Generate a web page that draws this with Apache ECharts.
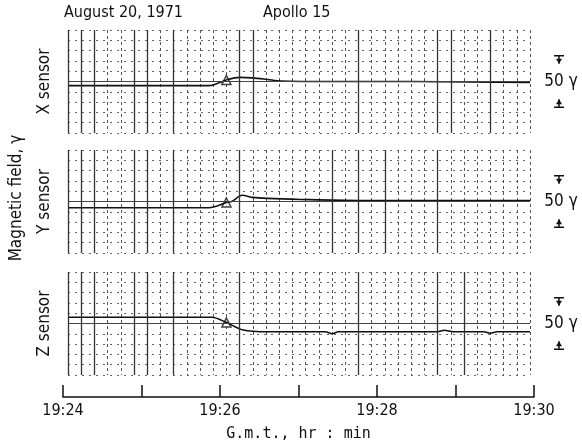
<!DOCTYPE html>
<html>
<head>
<meta charset="utf-8">
<script src="https://cdn.jsdelivr.net/npm/echarts@6/dist/echarts.min.js"></script>
<style>
  html, body { margin: 0; padding: 0; background: #fff; }
  #charts { width: 582px; height: 445px; }
</style>
</head>
<body>
<div id="charts"></div>
<script>
// seconds on the chart paper (panel), field relative to baseline in gamma
var xSensor = [[0, -4], [40, -4], [80, -4], [107, -4], [115, -1], [121, 2], [130, 4], [140, 3.5],
    [151, 2], [161, 0.5], [200, 0], [260, 0], [305, -0.5], [350, -1]];
var ySensor = [[0, -6], [50, -6], [90, -6], [107, -6], [118, -2], [121, -0.5], [124, 0], [132, 6],
    [140, 4], [151, 3], [176, 2], [220, 1], [280, 1], [350, 1]];
var zSensor = [[0, 6], [60, 6], [109, 6], [120, 1], [132, -6], [151, -8], [176, -8], [195, -8],
    [200, -10], [205, -8], [280, -8], [285, -6.5], [292, -8], [315, -8], [320, -9.5], [325, -8], [350, -8]];
var markers = [[[120, 1.5]], [[120, -1]], [[120, 1]]];
var sensorNames = ['X sensor', 'Y sensor', 'Z sensor'];
var heavyLines = [
    [0, 10, 20, 50, 60, 80, 130, 140, 220, 280, 290, 320],
    [0, 10, 20, 50, 60, 80, 130, 200, 220, 240, 280],
    [0, 10, 20, 50, 60, 80, 130, 220, 280, 300]
];
var timeTicks = ['19:24', '', '19:26', '', '19:28', '', '19:30'];
var sensors = [xSensor, ySensor, zSensor];

var FONT = "'DejaVu Sans Condensed', 'Liberation Sans Narrow', 'DejaVu Sans', sans-serif";
var MONO = "'DejaVu Sans Mono', 'Liberation Mono', monospace";
var panelTops = [30, 150, 272];

var myChart = echarts.init(document.getElementById('charts'));

var grids = [], xAxes = [], yAxes = [], seriesList = [];
panelTops.forEach(function (top, i) {
    grids.push({ left: 68, right: 52, top: top, height: 103 });
    xAxes.push({
        type: 'value', gridIndex: i, min: 0, max: 350, interval: 10,
        axisLine: { show: false }, axisTick: { show: false }, axisLabel: { show: false },
        splitLine: { show: true, lineStyle: { color: '#555', width: 1, type: [3, 3] } }
    });
    yAxes.push({
        type: 'value', gridIndex: i, min: -50, max: 50, interval: 10,
        name: sensorNames[i], nameLocation: 'middle', nameGap: 15, nameRotate: 90,
        nameTextStyle: { fontFamily: FONT, fontSize: 17, color: '#111' },
        axisLine: { show: false }, axisTick: { show: false }, axisLabel: { show: false },
        splitLine: { show: true, lineStyle: { color: '#666', width: 1, type: [2, 5] } }
    });
    seriesList.push({
        type: 'line', xAxisIndex: i, yAxisIndex: i, data: sensors[i],
        showSymbol: false, smooth: 0.3,
        lineStyle: { color: '#111', width: 1.6 },
        markLine: {
            silent: true, symbol: 'none', label: { show: false }, animation: false,
            data: [{ yAxis: 0, lineStyle: { color: '#444', width: 1, type: 'solid' } }].concat(
                heavyLines[i].map(function (v) {
                    return { xAxis: v, lineStyle: { color: '#333', width: 1.3, type: 'solid' } };
                }))
        }
    });
    seriesList.push({
        type: 'scatter', xAxisIndex: i, yAxisIndex: i, data: markers[i],
        symbol: 'triangle', symbolSize: 9,
        itemStyle: { color: '#fff', borderColor: '#111', borderWidth: 1.5 }
    });
});

// time axis
grids.push({ left: 63, right: 48, top: 385, height: 12 });
xAxes.push({
    type: 'value', gridIndex: 3, min: 0, max: 6, interval: 1,
    name: 'G.m.t., hr : min', nameLocation: 'middle', nameGap: 30,
    nameTextStyle: { fontFamily: MONO, fontSize: 15, color: '#111' },
    axisLine: { lineStyle: { color: '#111', width: 1.5 } },
    axisTick: { inside: true, length: 12, lineStyle: { color: '#111', width: 1.5 } },
    axisLabel: {
        margin: 6, fontFamily: FONT, fontSize: 16, color: '#111',
        formatter: function (v) { return timeTicks[v] || ''; }
    },
    splitLine: { show: false }
});
yAxes.push({ type: 'value', gridIndex: 3, show: false });

var option = {
    animation: false,
    backgroundColor: '#fff',
    grid: grids,
    xAxis: xAxes,
    yAxis: yAxes,
    series: seriesList
};
myChart.setOption(option);

// titles and 50 gamma scale bars
var graphics = [
    { type: 'text', left: 64, top: 5, style: { text: 'August 20, 1971', fontFamily: FONT, fontSize: 16, fill: '#111' } },
    { type: 'text', left: 263, top: 5, style: { text: 'Apollo 15', fontFamily: FONT, fontSize: 16, fill: '#111' } },
    { type: 'text', x: 17, y: 198, rotation: Math.PI / 2,
      style: { text: 'Magnetic field, γ', fontFamily: FONT, fontSize: 17, fill: '#111', align: 'center', verticalAlign: 'middle' } }
];
[0, 1, 2].forEach(function (i) {
    var yTop = myChart.convertToPixel({ yAxisIndex: i }, 25);
    var yMid = myChart.convertToPixel({ yAxisIndex: i }, 0);
    var yBot = myChart.convertToPixel({ yAxisIndex: i }, -25);
    var cx = 559;
    var st = { stroke: '#111', lineWidth: 1.5 };
    graphics.push(
        { type: 'line', shape: { x1: cx - 5, y1: yTop, x2: cx + 5, y2: yTop }, style: st },
        { type: 'line', shape: { x1: cx, y1: yTop, x2: cx, y2: yTop + 8 }, style: st },
        { type: 'polygon', shape: { points: [[cx - 3, yTop + 3], [cx + 3, yTop + 3], [cx, yTop + 8]] }, style: { fill: '#111' } },
        { type: 'line', shape: { x1: cx - 5, y1: yBot, x2: cx + 5, y2: yBot }, style: st },
        { type: 'line', shape: { x1: cx, y1: yBot, x2: cx, y2: yBot - 8 }, style: st },
        { type: 'polygon', shape: { points: [[cx - 3, yBot - 3], [cx + 3, yBot - 3], [cx, yBot - 8]] }, style: { fill: '#111' } },
        { type: 'text', x: 561, y: yMid, style: { text: '50 γ', fontFamily: FONT, fontSize: 17, fill: '#111', align: 'center', verticalAlign: 'middle' } }
    );
});
myChart.setOption({ graphic: graphics });
</script>
</body>
</html>
